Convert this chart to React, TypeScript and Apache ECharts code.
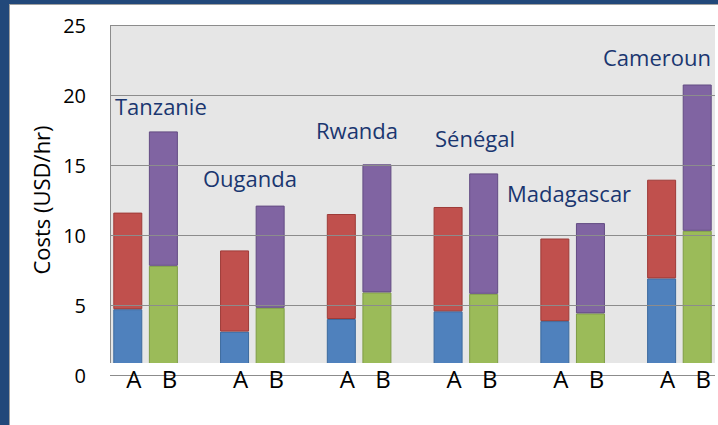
import React, { useEffect, useRef } from "react";
import * as echarts from "echarts";

const countries = ["Tanzanie", "Ouganda", "Rwanda", "Sénégal", "Madagascar", "Cameroun"];
const aLower = [4.7, 3.1, 4.0, 4.55, 3.85, 6.9]; // blue
const aUpper = [6.9, 5.8, 7.5, 7.45, 5.9, 7.05]; // red
const bLower = [7.8, 4.8, 5.9, 5.8, 4.4, 10.3]; // green
const bUpper = [9.6, 7.3, 9.15, 8.6, 6.45, 10.45]; // purple
const yTicks = [0, 5, 10, 15, 20, 25];

const FONT = "'Open Sans', sans-serif";

function slots(values: number[], offset: number) {
  const out: (number | null)[] = [];
  const n = countries.length * 3 - 1;
  for (let i = 0; i < n; i++) out.push(null);
  values.forEach((v, i) => {
    out[i * 3 + offset] = v;
  });
  return out;
}

const categories: string[] = [];
countries.forEach((_, i) => {
  categories.push("A", "B");
  if (i < countries.length - 1) categories.push("");
});

const labelPos: [number, number][] = [
  [115, 106],
  [203, 178],
  [316, 130],
  [435, 138],
  [507, 193],
  [603, 57],
];

export default function App() {
  const ref = useRef<HTMLDivElement>(null);
  useEffect(() => {
    if (!ref.current) return;
    const chart = echarts.init(ref.current, undefined, { renderer: "svg" });
    const mk = (name: string, data: (number | null)[], color: string, border: string) => ({
      name,
      type: "bar",
      stack: "total",
      data,
      barWidth: 29,
      itemStyle: { color, borderColor: border, borderWidth: 1 },
      z: 2,
    });
    chart.setOption({
      animation: false,
      backgroundColor: "#ffffff",
      grid: {
        left: 110,
        right: 3,
        top: 25,
        bottom: 50,
        show: true,
        backgroundColor: "#E6E6E6",
        borderWidth: 0,
      },
      xAxis: {
        type: "category",
        data: categories,
        z: 10,
        axisLine: { show: false },
        axisTick: { show: false },
        axisLabel: {
          interval: 0,
          color: "#000",
          fontSize: 24,
          fontFamily: FONT,
          verticalAlign: "middle",
          margin: 3,
          padding: [0, 0, 0, 12],
        },
      },
      yAxis: {
        type: "value",
        min: yTicks[0],
        max: yTicks[yTicks.length - 1],
        interval: 5,
        z: 10,
        name: "Costs (USD/hr)",
        nameLocation: "middle",
        nameGap: 53,
        nameTextStyle: { color: "#000", fontSize: 22, fontFamily: FONT },
        axisLine: { show: false },
        axisTick: { show: false },
        axisLabel: { color: "#000", fontSize: 20, fontFamily: FONT, margin: 24 },
        splitLine: { show: true, lineStyle: { color: "#8C8C8C", width: 1 } },
      },
      series: [
        mk("A1", slots(aLower, 0), "#4F81BD", "#3C6A9E"),
        mk("A2", slots(aUpper, 0), "#C0504D", "#9E3B38"),
        mk("B1", slots(bLower, 1), "#9BBB59", "#7E9C45"),
        mk("B2", slots(bUpper, 1), "#8064A2", "#634C83"),
      ],
      graphic: [
        { type: "rect", z: 5, shape: { x: 109, y: 363, width: 610, height: 14 }, style: { fill: "#ffffff" } },
        { type: "line", z: 6, shape: { x1: 110.5, y1: 25, x2: 110.5, y2: 363 }, style: { stroke: "#8C8C8C", lineWidth: 1 } },
        { type: "rect", z: 20, shape: { x: 0, y: 0, width: 718, height: 4 }, style: { fill: "#22487A" } },
        { type: "rect", z: 20, shape: { x: 0, y: 0, width: 9, height: 425 }, style: { fill: "#22487A" } },
        { type: "rect", z: 20, shape: { x: 9, y: 4, width: 709, height: 1 }, style: { fill: "#A0A0A0" } },
        { type: "rect", z: 20, shape: { x: 9, y: 4, width: 1, height: 421 }, style: { fill: "#A0A0A0" } },
        ...countries.map((c, i) => ({
          type: "text",
          z: 15,
          style: {
            x: labelPos[i][0],
            y: labelPos[i][1],
            text: c,
            fill: "#1A3670",
            font: `22px ${FONT}`,
            verticalAlign: "middle",
          },
        })),
      ],
    });
    return () => chart.dispose();
  }, []);
  return (
    <div
      ref={ref}
      style={{ position: "absolute", left: 0, top: 0, width: 718, height: 425 }}
    />
  );
}
